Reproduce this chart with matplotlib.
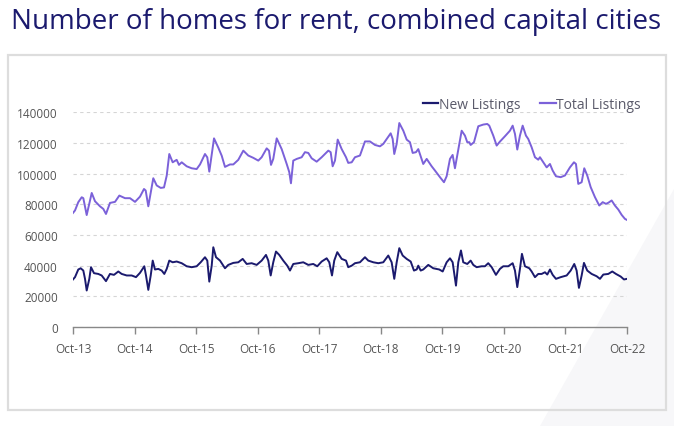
import matplotlib
matplotlib.use("Agg")
import matplotlib.pyplot as plt
from matplotlib.patches import Rectangle, Polygon
from matplotlib.lines import Line2D

plt.rcParams['font.family'] = ['Open Sans', 'DejaVu Sans']

# months since Oct-2013
total_t = [0.0, 0.39, 1.03, 1.70, 2.01, 2.67, 3.65, 4.29, 5.26, 5.91, 6.43, 7.21, 8.19, 9.03, 10.14,
           11.11, 12.09, 13.06, 13.84, 14.17, 14.68, 15.65, 16.32, 17.10, 17.74, 18.27, 18.77, 19.43,
           20.21, 20.66, 21.19, 22.16, 23.14, 24.11, 24.76, 25.73, 26.18, 26.57, 27.49, 28.32, 28.99,
           29.63, 30.60, 31.25, 32.22, 33.20, 34.17, 35.15, 36.12, 36.78, 37.76, 38.21, 38.60, 39.04,
           39.71, 40.68, 41.66, 42.16, 42.49, 42.94, 43.61, 44.58, 45.22, 45.87, 46.53, 47.50, 48.48,
           49.77, 50.23, 50.62, 51.07, 51.60, 52.38, 53.22, 53.66, 54.33, 54.97, 55.94, 56.92, 57.89,
           58.87, 59.84, 60.49, 61.15, 61.93, 62.32, 62.63, 63.10, 63.61, 64.39, 65.05, 65.69, 66.22,
           66.86, 67.31, 68.28, 68.95, 69.92, 70.57, 71.54, 72.32, 72.84, 73.49, 74.01, 74.46, 74.91,
           75.77, 76.41, 76.86, 77.25, 77.52, 78.17, 79.01, 79.98, 80.76, 81.15, 81.93, 82.59, 83.23,
           84.21, 85.18, 85.71, 86.16, 86.61, 87.13, 87.66, 88.30, 88.75, 89.41, 90.06, 90.70, 91.03,
           91.68, 92.34, 92.98, 93.51, 94.15, 95.07, 95.91, 96.88, 97.66, 98.05, 98.50, 99.16, 99.67,
           100.25, 100.92, 101.75, 102.59, 103.26, 103.90, 104.35, 105.01, 105.65, 106.30, 106.96,
           107.60, 108.0]
total_listings = [74400, 76000, 81400, 84600, 84000, 73000, 87400, 82000, 78700, 77000, 73700, 80900,
                  81600, 85700, 84000, 84000, 81600, 85000, 90000, 89000, 78700, 97000, 92300, 90700,
                  91000, 98700, 112800, 107400, 109000, 105700, 107400, 104800, 103500, 103000, 106000,
                  112800, 110600, 101300, 123000, 117000, 111700, 104400, 106000, 106000, 109000, 115000,
                  111800, 110300, 108500, 110700, 116500, 115000, 105700, 109600, 123000, 116000, 106300,
                  101000, 93700, 108500, 109600, 110700, 114000, 113500, 110000, 107800, 110700, 115000,
                  114000, 104800, 108500, 122200, 116000, 110700, 107000, 107400, 110700, 111800, 121000,
                  121000, 118700, 117800, 119400, 122600, 126300, 122600, 112800, 119400, 133000, 128000,
                  122200, 120500, 113500, 114000, 116000, 106300, 109600, 104800, 102000, 97700, 94400,
                  98300, 109600, 112200, 103500, 111800, 128000, 124800, 120500, 120500, 118700, 120500,
                  130900, 132000, 132400, 131300, 124800, 118300, 120900, 124400, 128000, 131300, 125900,
                  115700, 124800, 131300, 124800, 122600, 117200, 110700, 109100, 110700, 107400, 104100,
                  106300, 102000, 98300, 97700, 98800, 104100, 107400, 106300, 93300, 94400, 103500,
                  98800, 91200, 84700, 79200, 81400, 80300, 81000, 82500, 79200, 76600, 73100, 70500,
                  69800]

new_t = [0.0, 0.39, 1.03, 1.50, 2.01, 2.34, 2.67, 3.18, 3.51, 4.09, 4.93, 5.59, 6.43, 7.21, 7.99, 8.83,
         9.49, 10.47, 11.44, 12.28, 13.06, 13.90, 14.23, 14.68, 15.15, 15.54, 15.98, 16.63, 17.29, 17.80,
         18.27, 18.77, 19.43, 20.21, 21.19, 22.16, 23.14, 24.11, 24.89, 25.73, 26.18, 26.57, 27.04,
         27.35, 27.88, 28.66, 29.63, 30.27, 31.25, 32.22, 33.08, 33.86, 34.83, 35.81, 36.78, 37.62,
         38.07, 38.54, 39.04, 39.57, 40.21, 40.99, 41.77, 42.30, 42.94, 43.92, 44.89, 45.87, 46.84,
         47.62, 48.48, 49.45, 49.96, 50.49, 50.93, 51.52, 52.38, 53.22, 53.66, 54.33, 54.97, 55.94,
         56.92, 57.56, 58.54, 59.51, 60.49, 61.46, 62.12, 62.63, 63.10, 63.61, 64.27, 65.05, 65.83,
         66.47, 67.00, 67.31, 67.78, 68.28, 69.26, 70.23, 71.40, 72.07, 72.84, 73.49, 74.01, 74.66,
         75.11, 75.63, 76.08, 76.86, 77.52, 78.03, 78.69, 79.67, 80.31, 80.95, 81.62, 82.45, 83.23,
         83.88, 84.85, 85.71, 86.16, 86.61, 87.13, 87.52, 88.11, 88.95, 89.41, 90.06, 90.70, 91.36,
         92.01, 92.46, 92.98, 93.51, 94.15, 95.07, 96.24, 97.02, 97.72, 98.18, 98.63, 99.16, 99.61,
         100.25, 101.11, 102.08, 102.73, 103.38, 104.35, 105.13, 105.85, 106.77, 107.41, 108.0]
new_listings = [31000, 32500, 37500, 38300, 36800, 31400, 23800, 31400, 39000, 35100, 34600, 33600,
                29900, 34600, 34000, 36200, 34600, 33600, 33600, 32500, 35300, 39600, 33600, 24200,
                33600, 43300, 37500, 37900, 36800, 34600, 37900, 43300, 42200, 42700, 41600, 39600,
                39000, 39600, 42200, 45500, 43300, 29600, 40000, 52000, 45500, 43300, 38300, 40500,
                41800, 42200, 44400, 41100, 41600, 40500, 43300, 47000, 43300, 33600, 42200, 49200,
                47000, 43300, 40000, 36800, 41100, 41600, 42200, 40500, 41100, 39600, 42700, 44800,
                42200, 33600, 43300, 48800, 44400, 43300, 39000, 40000, 41600, 42200, 45500, 43300,
                42200, 41600, 42200, 46600, 42200, 31400, 42200, 51400, 46600, 44400, 42700, 36800,
                37500, 40000, 36800, 37500, 40500, 38300, 37500, 36200, 42200, 44800, 42200, 27000,
                42200, 49900, 42200, 41100, 43300, 40500, 39000, 39600, 39600, 41600, 39000, 34000,
                37900, 39600, 39600, 41600, 36800, 26000, 37900, 47700, 39600, 38300, 36200, 32500,
                34600, 34600, 35700, 34200, 37500, 34000, 31400, 32500, 33600, 36800, 41100, 36800,
                25500, 33600, 41800, 36800, 34600, 33100, 31400, 34200, 34600, 36200, 34600, 32900,
                31000, 31400]

tick_labels = ["Oct-13", "Oct-14", "Oct-15", "Oct-16", "Oct-17", "Oct-18", "Oct-19", "Oct-20",
               "Oct-21", "Oct-22"]
y_ticks = [0, 20000, 40000, 60000, 80000, 100000, 120000, 140000]

NAVY = "#1b1a6e"
PURPLE = "#7b61d9"
GRAY = "#555555"

fig = plt.figure(figsize=(6.74, 4.27), dpi=100)
W, H = 674, 427

# decorative faint shape bottom right
fig.patches.append(Polygon([(540 / W, 0), (1, 0), (1, 1 - 190 / H)], closed=True,
                           transform=fig.transFigure, facecolor="#f7f7f9", edgecolor="none",
                           zorder=-5))
# frame box
fig.patches.append(Rectangle((8 / W, 1 - 411 / H), (666 - 8) / W, (411 - 56) / H,
                             transform=fig.transFigure, facecolor="none", edgecolor="#dddddd",
                             linewidth=1.6, zorder=-4))

fig.text(11 / W, 1 - 22 / H, "Number of homes for rent, combined capital cities",
         fontsize=20, color=NAVY, va="center", ha="left")

ax = fig.add_axes([73 / W, 1 - 328 / H, (627 - 73) / W, (328 - 113.3) / H])
ax.patch.set_alpha(0)
ax.plot(new_t, new_listings, color=NAVY, linewidth=1.4, label="New Listings")
ax.plot(total_t, total_listings, color=PURPLE, linewidth=1.4, label="Total Listings")

ax.set_xlim(0, 108)
ax.set_ylim(0, 140000)
ax.set_xticks([12 * i for i in range(len(tick_labels))])
ax.set_xticklabels(tick_labels)
ax.set_yticks(y_ticks)
ax.set_yticklabels([str(v) for v in y_ticks])
ax.tick_params(axis="x", colors="#888888", labelcolor=GRAY, labelsize=8.5, length=5, width=1, pad=6)
ax.tick_params(axis="y", length=0, labelcolor=GRAY, labelsize=8.5, pad=11)
for s in ["top", "right", "left"]:
    ax.spines[s].set_visible(False)
ax.spines["bottom"].set_color("#888888")
ax.spines["bottom"].set_linewidth(1)
ax.grid(axis="y", color="#d5d5d5", linestyle=(0, (3, 3)), linewidth=0.8)
ax.set_axisbelow(True)

handles = [Line2D([0], [0], color=NAVY, lw=1.6), Line2D([0], [0], color=PURPLE, lw=1.6)]
leg = ax.legend(handles, ["New Listings", "Total Listings"], loc="lower right",
                bbox_to_anchor=(1.025, 1.0), ncol=2, frameon=False, fontsize=10,
                handlelength=1.1, handletextpad=0.05, columnspacing=1.45, borderaxespad=0,
                borderpad=0)
for t in leg.get_texts():
    t.set_color("#5a5a6a")

fig.savefig("out.png", dpi=100)
